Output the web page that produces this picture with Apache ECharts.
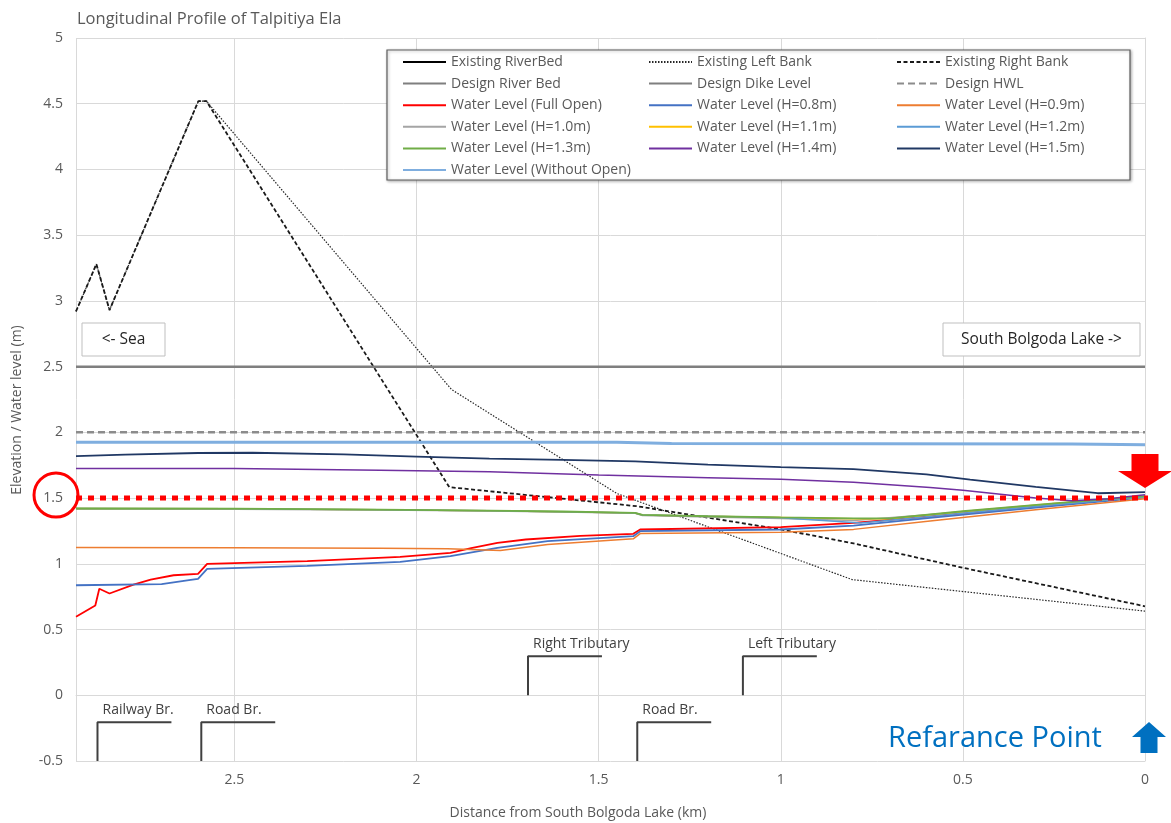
<!DOCTYPE html>
<html>
<head>
<meta charset="utf-8">
<script src="https://cdn.jsdelivr.net/npm/echarts@6/dist/echarts.min.js"></script>
<style>html,body{margin:0;padding:0;background:#fff}#c{width:1171px;height:823px}</style>
</head>
<body>
<div id="c"></div>
<script>
// ---------------- DATA (distance km from South Bolgoda Lake, elevation m) ----------------
const X_MAX = 2.935;
const xTickLabels = ['0', '0.5', '1', '1.5', '2', '2.5'];
const yTickLabels = ['-0.5', '0', '0.5', '1', '1.5', '2', '2.5', '3', '3.5', '4', '4.5', '5'];

const existingRiverBed = [];   // below the plotted range
const designRiverBed = [];     // below the plotted range
const existingLeftBank = [[2.935,2.92],[2.879,3.28],[2.843,2.93],[2.599,4.52],[2.577,4.52],[1.904,2.326],[1.45,1.535],[0.804,0.88],[0,0.64]];
const existingRightBank = [[2.935,2.92],[2.879,3.28],[2.843,2.93],[2.599,4.52],[2.577,4.52],[1.91,1.583],[1.394,1.438],[1.0,1.262],[0.8,1.155],[0.5,0.97],[0,0.677]];
const designDikeLevel = [[2.935,2.5],[0,2.5]];
const designHWL = [[2.935,2.0],[0,2.0]];

const wlFullOpen = [[2.935,0.597],[2.882,0.683],[2.871,0.81],[2.843,0.774],[2.777,0.842],[2.73,0.88],[2.667,0.913],[2.6,0.924],[2.575,1.0],[2.3,1.02],[2.045,1.053],[1.907,1.083],[1.85,1.12],[1.778,1.16],[1.7,1.185],[1.55,1.213],[1.405,1.228],[1.386,1.261],[1.0,1.279],[0.8,1.312],[0.59,1.36],[0.3,1.435],[0,1.51]];
const wlH08 = [[2.935,0.837],[2.7,0.845],[2.62,0.878],[2.6,0.886],[2.575,0.962],[2.3,0.985],[2.045,1.015],[1.907,1.058],[1.778,1.122],[1.64,1.172],[1.405,1.21],[1.386,1.248],[1.0,1.261],[0.8,1.291],[0.59,1.35],[0.3,1.428],[0,1.505]];
const wlH09 = [[2.935,1.124],[2.5,1.122],[2.1,1.118],[1.915,1.114],[1.77,1.101],[1.64,1.147],[1.405,1.19],[1.386,1.23],[1.0,1.24],[0.8,1.262],[0.59,1.325],[0.3,1.412],[0,1.495]];
const wlH10 = [[2.935,1.417],[2.5,1.416],[2.1,1.409],[1.8,1.401],[1.6,1.394],[1.4,1.384],[1.38,1.367],[1.2,1.356],[1.0,1.345],[0.8,1.33],[0.5,1.395],[0.25,1.455],[0,1.512]];
const wlH11 = [[2.935,1.42],[2.5,1.419],[2.1,1.412],[1.8,1.404],[1.6,1.397],[1.4,1.387],[1.38,1.371],[1.2,1.361],[1.0,1.352],[0.8,1.343],[0.7,1.343],[0.5,1.398],[0.25,1.458],[0,1.513]];
const wlH12 = [[2.935,1.42],[2.5,1.419],[2.1,1.412],[1.8,1.404],[1.6,1.397],[1.4,1.387],[1.38,1.371],[1.2,1.361],[1.0,1.35],[0.78,1.31],[0.5,1.385],[0.25,1.45],[0,1.51]];
const wlH13 = [[2.935,1.421],[2.5,1.42],[2.1,1.413],[1.8,1.405],[1.6,1.398],[1.4,1.388],[1.38,1.372],[1.2,1.362],[1.0,1.353],[0.8,1.345],[0.7,1.345],[0.5,1.4],[0.25,1.46],[0,1.515]];
const wlH14 = [[2.935,1.725],[2.5,1.725],[2.1,1.712],[1.8,1.7],[1.5,1.675],[1.2,1.655],[1.0,1.643],[0.8,1.62],[0.59,1.58],[0.5,1.56],[0.3,1.5],[0.2,1.48],[0.1,1.495],[0,1.525]];
const wlH15 = [[2.935,1.82],[2.8,1.83],[2.6,1.843],[2.45,1.845],[2.2,1.832],[2.0,1.815],[1.8,1.8],[1.6,1.79],[1.4,1.78],[1.2,1.755],[1.0,1.735],[0.8,1.72],[0.6,1.68],[0.48,1.64],[0.3,1.585],[0.13,1.537],[0,1.545]];
const wlWithoutOpen = [[2.935,1.925],[1.45,1.925],[1.3,1.915],[0.2,1.912],[0,1.905]];

const referenceLevel = [[2.935,1.5],[-0.022,1.5]];

const structureNames = ['Railway Br.', 'Road Br.', 'Right Tributary', 'Road Br.', 'Left Tributary'];
const structureKm    = [2.876, 2.591, 1.694, 1.394, 1.104];
const structureBase  = [-0.5, -0.5, 0, -0.5, 0];
const structureTop   = [-0.205, -0.205, 0.297, -0.205, 0.297];

// ---------------- CHART ----------------
const FONT = 'Open Sans';
const TXT = '#595959';
const ARM = 0.203;

const chart = echarts.init(document.getElementById('c'));

function ln(name, data, color, width, type, z) {
  return {
    name, type: 'line', data, symbol: 'none', showSymbol: false, animation: false,
    lineStyle: { color, width, type: type || 'solid', cap: 'butt' },
    itemStyle: { color }, z: z || 2, emphasis: { disabled: true }, silent: true
  };
}

const series = [
  ln('Existing RiverBed', existingRiverBed, '#000000', 2),
  ln('Existing Left Bank', existingLeftBank, '#262626', 1.2, [1.5, 1.5]),
  ln('Existing Right Bank', existingRightBank, '#1a1a1a', 1.8, [4, 2.5]),
  ln('Design River Bed', designRiverBed, '#7F7F7F', 2.5),
  ln('Design Dike Level', designDikeLevel, '#7F7F7F', 2.5),
  ln('Design HWL', designHWL, '#8C8C8C', 2.5, [7, 4]),
  ln('Water Level (Full Open)', wlFullOpen, '#FF0000', 1.8),
  ln('Water Level (H=0.8m)', wlH08, '#4472C4', 1.8),
  ln('Water Level (H=0.9m)', wlH09, '#ED7D31', 1.5),
  ln('Water Level (H=1.0m)', wlH10, '#A5A5A5', 1.5),
  ln('Water Level (H=1.1m)', wlH11, '#FFC000', 1.5),
  ln('Water Level (H=1.2m)', wlH12, '#5B9BD5', 1.5),
  ln('Water Level (H=1.3m)', wlH13, '#70AD47', 1.8),
  ln('Water Level (H=1.4m)', wlH14, '#7030A0', 1.5),
  ln('Water Level (H=1.5m)', wlH15, '#203864', 1.8),
  ln('Water Level (Without Open)', wlWithoutOpen, '#7FAEDF', 3),
  Object.assign(ln('refLevel', referenceLevel, '#FF0000', 5, [6, 6], 3), { clip: false })
];
structureKm.forEach((d, i) => {
  series.push(ln('structure' + i, [[d, structureBase[i]], [d, structureTop[i]], [d - ARM, structureTop[i]]], '#404040', 2, 'solid', 3));
});

const legendCols = [
  ['Existing RiverBed', 'Design River Bed', 'Water Level (Full Open)', 'Water Level (H=1.0m)', 'Water Level (H=1.3m)', 'Water Level (Without Open)'],
  ['Existing Left Bank', 'Design Dike Level', 'Water Level (H=0.8m)', 'Water Level (H=1.1m)', 'Water Level (H=1.4m)'],
  ['Existing Right Bank', 'Design HWL', 'Water Level (H=0.9m)', 'Water Level (H=1.2m)', 'Water Level (H=1.5m)']
];
const legendLeft = [397, 643, 891];

const option = {
  animation: false,
  backgroundColor: '#ffffff',
  textStyle: { fontFamily: FONT },
  title: {
    text: 'Longitudinal Profile of Talpitiya Ela', left: 72, top: 6,
    textStyle: { fontFamily: FONT, fontSize: 16.5, fontWeight: 'normal', color: TXT }
  },
  grid: { left: 76, right: 26, top: 38, bottom: 62, containLabel: false },
  legend: legendCols.map((names, i) => ({
    orient: 'vertical', left: legendLeft[i], top: 50, itemWidth: 43, itemHeight: 14, itemGap: 7.6,
    data: names, selectedMode: false, z: 10,
    itemStyle: { color: 'rgba(0,0,0,0)', borderWidth: 0, borderColor: 'rgba(0,0,0,0)' },
    textStyle: { fontFamily: FONT, fontSize: 14, color: TXT, lineHeight: 14 }
  })),
  xAxis: {
    type: 'value', inverse: true, min: 0, max: X_MAX, interval: 0.5,
    axisLine: { show: true, lineStyle: { color: '#D9D9D9', width: 1 } },
    axisTick: { show: false },
    splitLine: { show: true, lineStyle: { color: '#D9D9D9', width: 1 } },
    axisLabel: {
      margin: 12, color: TXT, fontFamily: FONT, fontSize: 14, showMaxLabel: false,
      formatter: v => { const s = String(Math.round(v * 10) / 10); return xTickLabels.includes(s) ? s : ''; }
    }
  },
  yAxis: {
    type: 'value', min: -0.5, max: 5, interval: 0.5,
    axisLine: { show: true, lineStyle: { color: '#D9D9D9', width: 1 } },
    axisTick: { show: false },
    splitLine: { show: true, lineStyle: { color: '#D9D9D9', width: 1 } },
    axisLabel: {
      margin: 13, color: TXT, fontFamily: FONT, fontSize: 14,
      formatter: v => { const s = String(Math.round(v * 10) / 10); return yTickLabels.includes(s) ? s : ''; }
    }
  },
  series
};
chart.setOption(option);

// ---------------- ANNOTATIONS (anchored via the axes) ----------------
const px = (d, v) => chart.convertToPixel({ xAxisIndex: 0, yAxisIndex: 0 }, [d, v]);
const g = [];
// legend frame
g.push({ type: 'rect', z: 3, shape: { x: 387, y: 50, width: 743, height: 130 },
  style: { fill: '#ffffff', stroke: '#5E5E5E', lineWidth: 1.2, shadowBlur: 3, shadowColor: 'rgba(0,0,0,0.3)', shadowOffsetX: 1, shadowOffsetY: 1 } });
// structure labels
structureKm.forEach((d, i) => {
  const p = px(d, structureTop[i]);
  g.push({ type: 'text', z: 5, x: p[0] + 5, y: p[1] - 12,
    style: { text: structureNames[i], fill: '#404040', font: '14px "Open Sans"', textAlign: 'left', textVerticalAlign: 'middle' } });
});
// axis names
g.push({ type: 'text', z: 5, x: 578, y: 813,
  style: { text: 'Distance from South Bolgoda Lake (km)', fill: TXT, font: '14px "Open Sans"', textAlign: 'center', textVerticalAlign: 'middle' } });
g.push({ type: 'text', z: 5, x: 17, y: 410, rotation: Math.PI / 2,
  style: { text: 'Elevation / Water level (m)', fill: TXT, font: '14px "Open Sans"', textAlign: 'center', textVerticalAlign: 'middle' } });
// direction boxes
g.push({ type: 'rect', z: 5, shape: { x: 82, y: 323, width: 83, height: 33 }, style: { fill: '#fff', stroke: '#BFBFBF', lineWidth: 1 } });
g.push({ type: 'text', z: 6, x: 123.5, y: 340, style: { text: '<- Sea', fill: '#262626', font: '15.5px "Open Sans"', textAlign: 'center', textVerticalAlign: 'middle' } });
g.push({ type: 'rect', z: 5, shape: { x: 943, y: 323, width: 197, height: 33 }, style: { fill: '#fff', stroke: '#BFBFBF', lineWidth: 1 } });
g.push({ type: 'text', z: 6, x: 1041.5, y: 340, style: { text: 'South Bolgoda Lake ->', fill: '#262626', font: '15.5px "Open Sans"', textAlign: 'center', textVerticalAlign: 'middle' } });
// red circle around 1.5 label
const p15 = px(X_MAX, 1.5);
g.push({ type: 'circle', z: 6, shape: { cx: 56, cy: p15[1] - 3, r: 22 }, style: { fill: 'none', stroke: '#FF0000', lineWidth: 3 } });
// red down arrow at reference point
const pr = px(0, 1.5);
const tx = pr[0], ty = pr[1] - 10;
g.push({ type: 'polygon', z: 6, shape: { points: [[tx - 13.5, ty - 34], [tx + 13.5, ty - 34], [tx + 13.5, ty - 17], [tx + 27, ty - 17], [tx, ty], [tx - 27, ty - 17], [tx - 13.5, ty - 17]] }, style: { fill: '#FF0000' } });
// blue up arrow + label
const pb = px(0, -0.5);
const bx = pb[0] + 4, by = pb[1];
g.push({ type: 'polygon', z: 6, shape: { points: [[bx, by - 39], [bx + 17, by - 24], [bx + 8.5, by - 24], [bx + 8.5, by - 8], [bx - 8.5, by - 8], [bx - 8.5, by - 24], [bx - 17, by - 24]] }, style: { fill: '#0070C0' } });
g.push({ type: 'text', z: 6, x: 888, y: 739, style: { text: 'Refarance Point', fill: '#0070C0', font: '29px "Open Sans"', textAlign: 'left', textVerticalAlign: 'middle' } });

chart.setOption({ graphic: g });
</script>
</body>
</html>
